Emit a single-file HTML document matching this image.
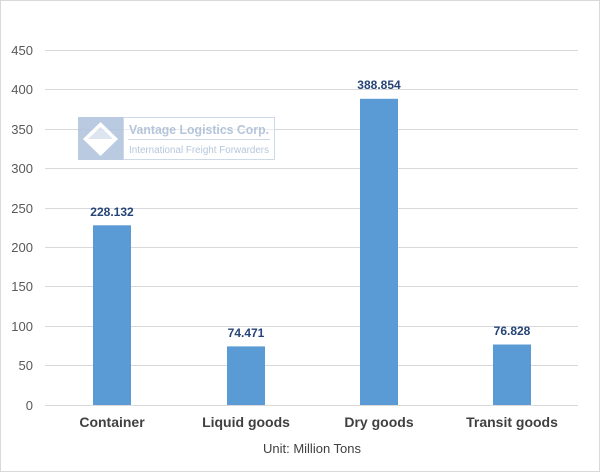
<!DOCTYPE html>
<html><head><style>
body{margin:0;background:#fff;}
svg{display:block;font-family:"Liberation Sans",Arial,sans-serif;}
</style></head><body>
<svg width="600" height="472" viewBox="0 0 600 472">
<rect x="0.5" y="0.5" width="599" height="471" fill="#fff" stroke="#d9d9d9"/>
<g stroke="#d9d9d9" stroke-width="1">
<line x1="45" y1="50.5" x2="578" y2="50.5"/>
<line x1="45" y1="89.5" x2="578" y2="89.5"/>
<line x1="45" y1="129.5" x2="578" y2="129.5"/>
<line x1="45" y1="168.5" x2="578" y2="168.5"/>
<line x1="45" y1="208.5" x2="578" y2="208.5"/>
<line x1="45" y1="247.5" x2="578" y2="247.5"/>
<line x1="45" y1="286.5" x2="578" y2="286.5"/>
<line x1="45" y1="326.5" x2="578" y2="326.5"/>
<line x1="45" y1="365.5" x2="578" y2="365.5"/>
<line x1="45" y1="405.5" x2="578" y2="405.5"/>
</g>
<g font-size="13" fill="#595959" text-anchor="end">
<text x="33" y="55">450</text><text x="33" y="94">400</text><text x="33" y="134">350</text>
<text x="33" y="173">300</text><text x="33" y="213">250</text><text x="33" y="252">200</text>
<text x="33" y="291">150</text><text x="33" y="331">100</text><text x="33" y="370">50</text>
<text x="33" y="410">0</text>
</g>
<!-- logo -->
<g opacity="0.85">
<rect x="78" y="117" width="45" height="43" fill="#aec3dc"/>
<polygon points="100.5,122 118,139 100.5,156 83,139" fill="#fff"/>
<polygon points="100.5,127 113,139 88,139" fill="#d6e1ee"/>
<rect x="123.5" y="117.5" width="151" height="42" fill="#fff" fill-opacity="0.6" stroke="#c6d4e6"/>
<line x1="128" y1="139.5" x2="270" y2="139.5" stroke="#c6d4e6"/>
<text x="129" y="134" font-size="13" font-weight="bold" fill="#a9bcd5" textLength="140" lengthAdjust="spacingAndGlyphs">Vantage Logistics Corp.</text>
<text x="129" y="153" font-size="10" fill="#a9bcd5" textLength="140" lengthAdjust="spacingAndGlyphs">International Freight Forwarders</text>
</g>
<g fill="#5b9bd5">
<rect x="93" y="225.3" width="38" height="179.7"/>
<rect x="227" y="346.4" width="38" height="58.6"/>
<rect x="360" y="98.8" width="38" height="306.2"/>
<rect x="493" y="344.5" width="38" height="60.5"/>
</g>
<g font-size="12" font-weight="bold" fill="#264478" text-anchor="middle">
<text x="112" y="216">228.132</text>
<text x="246" y="337">74.471</text>
<text x="379" y="89">388.854</text>
<text x="512" y="335">76.828</text>
</g>
<g font-size="14" font-weight="bold" fill="#404040" text-anchor="middle">
<text x="112" y="427">Container</text>
<text x="246" y="427">Liquid goods</text>
<text x="379" y="427">Dry goods</text>
<text x="512" y="427">Transit goods</text>
</g>
<text x="312" y="453" font-size="13" fill="#404040" text-anchor="middle">Unit: Million Tons</text>
</svg>
</body></html>
